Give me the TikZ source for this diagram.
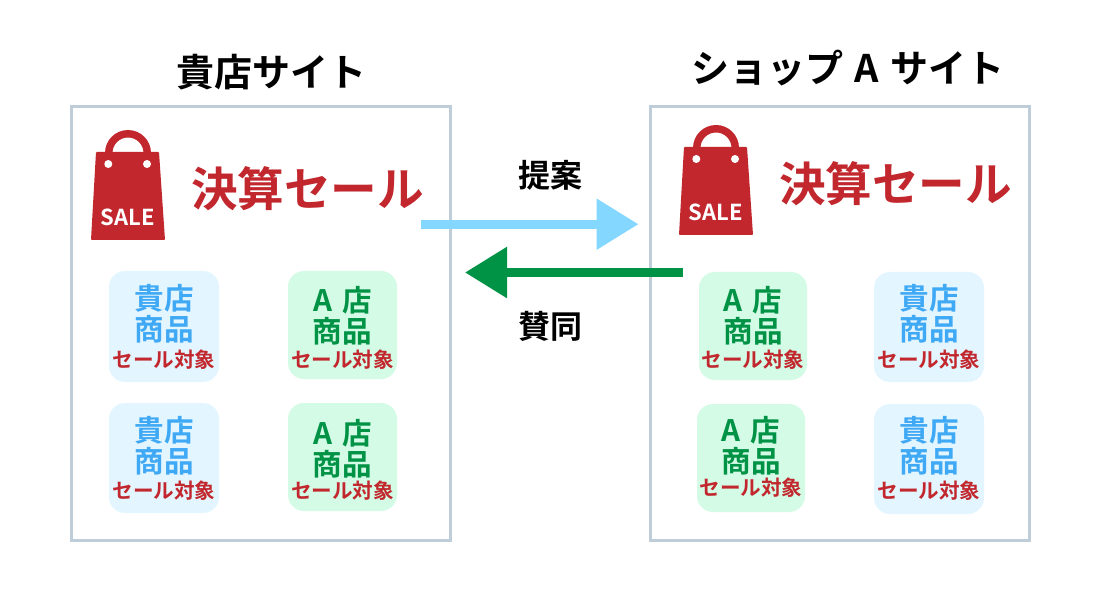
\documentclass[tikz,border=0pt]{standalone}
\usepackage{fontspec}
\setmainfont{Noto Sans CJK JP}[BoldFont={Noto Sans CJK JP Bold}]
\usetikzlibrary{arrows.meta}
\definecolor{frameC}{HTML}{BFCDD8}
\definecolor{redC}{HTML}{C1272D}
\definecolor{blueT}{HTML}{3FA9F5}
\definecolor{greenT}{HTML}{009245}
\definecolor{blueF}{HTML}{E3F5FF}
\definecolor{greenF}{HTML}{D3FBE6}
\definecolor{arrowB}{HTML}{84D8FF}
\tikzset{
  txt/.style={inner sep=0pt,outer sep=0pt,anchor=center},
  titletext/.style={txt,font=\bfseries\fontsize{38}{38}\selectfont,text=black,text height=33.4pt,text depth=4.6pt},
  saletext/.style={txt,font=\bfseries\fontsize{46.6}{46.6}\selectfont,text=redC,text height=41pt,text depth=5.6pt},
  arrowlabel/.style={txt,font=\bfseries\fontsize{32}{32}\selectfont,text=black,text height=28.2pt,text depth=3.8pt},
  namebig/.style={txt,font=\bfseries\fontsize{29.6}{29.6}\selectfont,text height=26pt,text depth=3.6pt},
  subject/.style={txt,font=\bfseries\fontsize{20.6}{20.6}\selectfont,text=redC,text height=18.1pt,text depth=2.5pt},
  sitebox/.style={draw=frameC,line width=3pt,fill=white,inner sep=0pt,outer sep=0pt},
  cardbox/.style={rounded corners=16pt,inner sep=0pt,outer sep=0pt,draw=none},
  flow/.style={line width=9pt,-{Triangle[length=42pt,width=49pt]}},
}
\newcommand{\Aten}{A\hspace{0.33em}店}
% #1 name, #2 left x, #3 top y, #4 right x, #5 bottom y, #6 fill, #7 text colour, #8 first line, #9 text y positions
\newcommand{\cardys}[3]{\def\ya{#1}\def\yb{#2}\def\yc{#3}}
\newcommand{\shopcard}[9]{%
  \cardys#9%
  \node[cardbox,fill=#6,minimum width={(#4-#2)*1pt},minimum height={(#5-#3)*1pt},anchor=north west] (#1) at (#2,#3) {};
  \node[namebig,text=#7] (#1a) at ({(#2+#4)/2},\ya) {#8};
  \node[namebig,text=#7] (#1b) at ({(#2+#4)/2},\yb) {商品};
  \node[subject] (#1c) at ({(#2+#4)/2},\yc) {セール対象};
}
% #1 name, #2 x shift, #3 y shift
\newcommand{\salebag}[3]{%
  \begin{scope}[shift={(#2,#3)}]
    \fill[redC] (105,153) arc[start angle=180,end angle=360,radius=23] -- (143.5,153) arc[start angle=360,end angle=180,radius=15.5] -- cycle;
    \fill[redC,rounded corners=0.8pt] (96,152) -- (159,152) -- (165,240) -- (91,240) -- cycle;
    \fill[white] (108.3,164) circle[radius=4];
    \fill[white] (147,164) circle[radius=4];
    \node[txt,font=\bfseries\fontsize{22}{22}\selectfont,text=white,text height=19.4pt,text depth=2.6pt] (#1) at (128,217) {SALE};
  \end{scope}
}
\begin{document}
\begin{tikzpicture}[x=1pt,y=-1pt]
\useasboundingbox (0,0) rectangle (1096,596);
\fill[white] (0,0) rectangle (1096,596);

\node[sitebox,minimum width=379pt,minimum height=433.5pt,anchor=north west] (siteL) at (71.3,106.5) {};
\node[sitebox,minimum width=379.2pt,minimum height=433.5pt,anchor=north west] (siteR) at (650.5,106.5) {};

\node[titletext] (titleL) at (271,72.5) {貴店サイト};
\node[titletext] (titleR) at (848,68) {ショップ\hspace{11.5pt}A\hspace{11.5pt}サイト};

\salebag{bagL}{0}{0}
\salebag{bagR}{588}{-5}

\node[saletext] (saleL) at (307.5,188.5) {決算セール};
\node[saletext] (saleR) at (895.5,183.5) {決算セール};

\shopcard{a1}{109}{271}{219}{382}{blueF}{blueT}{貴店}{{298.5}{329.5}{360}}
\shopcard{a2}{288}{271}{397}{379}{greenF}{greenT}{\Aten}{{300}{331}{360}}
\shopcard{a3}{109}{403}{219}{513}{blueF}{blueT}{貴店}{{430}{461}{491}}
\shopcard{a4}{288}{403}{397}{511}{greenF}{greenT}{\Aten}{{433}{464}{491}}
\shopcard{b1}{699}{272}{807}{380}{greenF}{greenT}{\Aten}{{300}{331}{360}}
\shopcard{b2}{874}{272}{984}{382}{blueF}{blueT}{貴店}{{298.5}{329.5}{360}}
\shopcard{b3}{697}{404}{805}{512}{greenF}{greenT}{\Aten}{{430}{461}{488}}
\shopcard{b4}{874}{404}{984}{514}{blueF}{blueT}{貴店}{{430}{461}{491}}

\coordinate (pStart) at (421,224.2);
\coordinate (pEnd) at (638.5,224.2);
\coordinate (aStart) at (682.5,272.5);
\coordinate (aEnd) at (465,272.5);
\draw[flow,draw=arrowB] (pStart) -- (pEnd);
\draw[flow,draw=greenT] (aStart) -- (aEnd);

\node[arrowlabel] (lblP) at (550,175) {提案};
\node[arrowlabel] (lblA) at (550,326) {賛同};
\end{tikzpicture}
\end{document}
